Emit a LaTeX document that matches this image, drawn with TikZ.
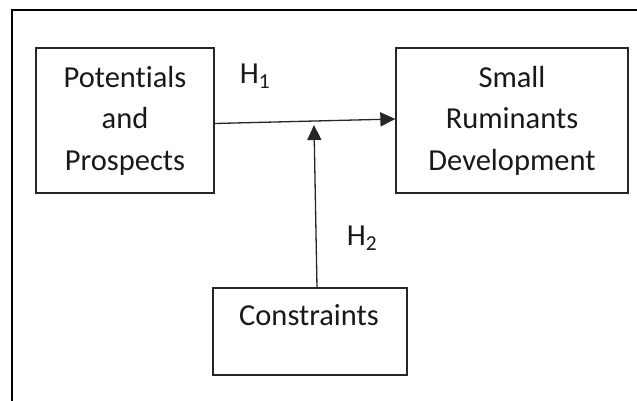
\documentclass[tikz,border=0pt]{standalone}
\usepackage{fontspec}
\setmainfont{Carlito}[Ligatures={NoCommon}]
\usetikzlibrary{arrows.meta}
\begin{document}
\begin{tikzpicture}[x=1pt,y=-1pt,
  box/.style={draw=black!85, line width=1.3pt, align=center, inner sep=0pt,
    font=\fontsize{30.5}{41.5}\selectfont, text=black!90},
  lbl/.style={inner sep=0pt, font=\fontsize{30.5}{36}\selectfont, text=black!90},
  arr/.style={draw=black!85, line width=1.3pt, -{Triangle[length=15pt,width=14pt]}},
  frame/.style={draw=black, line width=2pt}]
\useasboundingbox (0,0) rectangle (637,401);
\fill[white] (0,0) rectangle (637,401);
% frame
\coordinate (fb) at (12,402);
\coordinate (fc) at (12,10);
\coordinate (fr) at (638,10);
\draw[frame] (fb) -- (fc) -- (fr);
% boxes
\node[box, minimum width=178pt, minimum height=145pt] (pp) at (125,120.5) {Potentials\\and\\Prospects};
\node[box, minimum width=232pt, minimum height=145pt] (sr) at (512,120.5) {Small\\Ruminants\\Development};
\node[box, minimum width=194pt, minimum height=87pt] (cs) at (310,331.5) {};
\node[lbl] (cst) at (309,315.5) {Constraints};
% labels
\node[lbl] (h1) at (255,76) {H\textsubscript{1}};
\node[lbl] (h2) at (362,238) {H\textsubscript{2}};
% connectors
\coordinate (m) at (314,125);
\draw[arr] ([yshift=-3pt]pp.east) -- ([yshift=1.5pt]sr.west);
\draw[arr] ([xshift=7pt]cs.north) -- (m);
\end{tikzpicture}
\end{document}
